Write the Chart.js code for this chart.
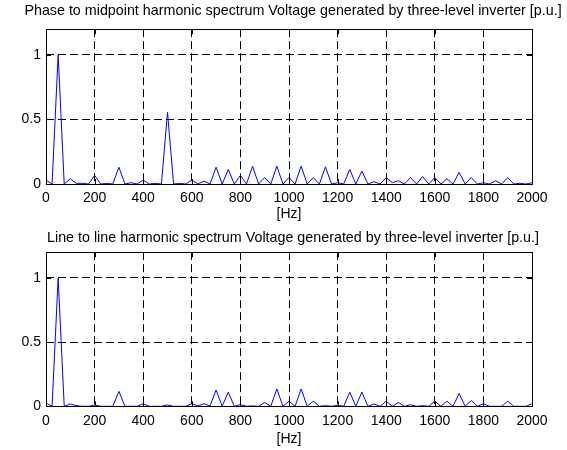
<!DOCTYPE html>
<html>
<head>
<meta charset="utf-8">
<script src="https://cdn.jsdelivr.net/npm/chart.js@4.4.0/dist/chart.umd.min.js"></script>
<style>
  html, body { margin: 0; padding: 0; background: #fff; }
  #wrap { position: relative; width: 567px; height: 450px; }
  .box { position: absolute; left: 0; width: 567px; height: 225px; }
  #topBox { top: 0; }
  #botBox { top: 225px; }
</style>
</head>
<body>
<div id="wrap">
  <div class="box" id="topBox"><canvas id="phaseChart"></canvas></div>
  <div class="box" id="botBox"><canvas id="lineChart"></canvas></div>
</div>
<script>
// harmonic frequencies [Hz]
const freqHz = [
  0, 25, 50, 75, 100, 125, 150, 175, 200, 225, 250, 275, 300, 325, 350, 375,
  400, 425, 450, 475, 500, 525, 550, 575, 600, 625, 650, 675, 700, 725, 750, 775,
  800, 825, 850, 875, 900, 925, 950, 975, 1000, 1025, 1050, 1075, 1100, 1125, 1150, 1175,
  1200, 1225, 1250, 1275, 1300, 1325, 1350, 1375, 1400, 1425, 1450, 1475, 1500, 1525, 1550, 1575,
  1600, 1625, 1650, 1675, 1700, 1725, 1750, 1775, 1800, 1825, 1850, 1875, 1900, 1925, 1950, 1975, 2000
];

// phase to midpoint spectrum [p.u.]
const phaseVals = [
  0.03, 0, 1.0, 0, 0.04, 0.005, 0.005, 0, 0.067, 0, 0.005, 0, 0.13, 0, 0.01, 0,
  0.03, 0, 0.005, 0, 0.555, 0, 0.005, 0, 0.03, 0, 0.022, 0, 0.13, 0, 0.113, 0,
  0.067, 0, 0.138, 0, 0.05, 0, 0.138, 0, 0.05, 0, 0.138, 0, 0.05, 0, 0.133, 0,
  0.01, 0, 0.113, 0, 0.1, 0, 0.018, 0, 0.05, 0.01, 0.025, 0, 0.05, 0, 0.058, 0,
  0.05, 0, 0.04, 0, 0.09, 0, 0.05, 0, 0.01, 0, 0.025, 0, 0.05, 0, 0.005, 0, 0.01
];

// line to line spectrum [p.u.]
const lineVals = [
  0.025, 0, 1.0, 0, 0.018, 0.005, 0, 0, 0.01, 0, 0, 0, 0.116, 0, 0, 0,
  0.02, 0, 0, 0, 0.01, 0, 0, 0, 0.02, 0.003, 0.02, 0.003, 0.127, 0, 0.11, 0,
  0.013, 0, 0.003, 0, 0.03, 0, 0.135, 0, 0.04, 0, 0.135, 0, 0.04, 0, 0.005, 0,
  0.008, 0, 0.11, 0, 0.11, 0, 0.018, 0, 0.04, 0, 0.03, 0, 0.012, 0, 0.005, 0,
  0.04, 0, 0.04, 0, 0.1, 0, 0.045, 0, 0.02, 0, 0, 0, 0.04, 0, 0, 0, 0.02
];

const xTicks = [0, 200, 400, 600, 800, 1000, 1200, 1400, 1600, 1800, 2000];
const yTicks = [0, 0.5, 1];

const FONT = "'Liberation Sans', Arial, Helvetica, sans-serif";
Chart.defaults.font.family = FONT;
Chart.defaults.color = "#000";

// matlab-ish box plus inward tick marks
const boxPlugin = {
  id: "mbox",
  afterDraw(chart) {
    const { ctx, chartArea: a, scales } = chart;
    ctx.save();
    ctx.strokeStyle = "#000";
    ctx.lineWidth = 1;
    ctx.setLineDash([]);
    ctx.strokeRect(Math.round(a.left) + 0.5, Math.round(a.top) + 0.5,
      Math.round(a.right - a.left), Math.round(a.bottom - a.top));
    ctx.beginPath();
    for (const v of xTicks) {
      const px = Math.round(scales.x.getPixelForValue(v)) + 0.5;
      ctx.moveTo(px, a.bottom); ctx.lineTo(px, a.bottom - 5);
      ctx.moveTo(px, a.top); ctx.lineTo(px, a.top + 5);
    }
    for (const v of yTicks) {
      const py = Math.round(scales.y.getPixelForValue(v)) + 0.5;
      ctx.moveTo(a.left, py); ctx.lineTo(a.left + 5, py);
      ctx.moveTo(a.right, py); ctx.lineTo(a.right - 5, py);
    }
    ctx.stroke();
    ctx.restore();
  }
};

function makeChart(id, titleText, vals, titlePad, xAxisH, tickPad) {
  const pts = freqHz.map((f, i) => ({ x: f, y: vals[i] }));
  return new Chart(document.getElementById(id), {
    type: "line",
    data: {
      datasets: [{
        data: pts,
        borderColor: "#0000ff",
        borderWidth: 1,
        pointRadius: 0,
        tension: 0,
        fill: false
      }]
    },
    options: {
      animation: false,
      responsive: true,
      maintainAspectRatio: false,
      layout: { padding: { left: 19, right: 0, top: 0, bottom: 0 } },
      plugins: {
        legend: { display: false },
        tooltip: { enabled: false },
        title: {
          display: true,
          text: titleText,
          color: "#000",
          font: { size: 14.3, weight: "normal" },
          padding: titlePad
        }
      },
      scales: {
        x: {
          type: "linear",
          min: 0, max: 2000,
          afterBuildTicks: (s) => { s.ticks = xTicks.map(v => ({ value: v })); },
          afterFit: (s) => { s.height = xAxisH; },
          ticks: { callback: (v) => String(v), padding: tickPad, maxRotation: 0, font: { size: 14 }, color: "#000" },
          grid: { color: "#000", lineWidth: 1, drawTicks: false },
          border: { display: false, dash: [8, 4] },
          title: { display: true, text: "[Hz]", color: "#000", font: { size: 14 }, padding: { top: 0, bottom: 2 } }
        },
        y: {
          min: 0, max: 1.2,
          afterBuildTicks: (s) => { s.ticks = yTicks.map(v => ({ value: v })); },
          afterFit: (s) => { s.width = 27; },
          ticks: { callback: (v) => String(v), padding: 5, font: { size: 14 }, color: "#000" },
          grid: { color: "#000", lineWidth: 1, drawTicks: false },
          border: { display: false, dash: [8, 4] }
        },
        yR: {
          position: "right",
          min: 0, max: 1.2,
          afterFit: (s) => { s.width = 35; },
          ticks: { display: false },
          grid: { display: false },
          border: { display: false }
        }
      }
    },
    plugins: [boxPlugin]
  });
}

makeChart("phaseChart",
  "Phase to midpoint harmonic spectrum Voltage generated by three-level inverter [p.u.]",
  phaseVals, { top: 2, bottom: 10 }, 41, 6);
makeChart("lineChart",
  "Line to line harmonic spectrum Voltage generated by three-level inverter [p.u.]",
  lineVals, { top: 4, bottom: 6 }, 43.7, 6);
</script>
</body>
</html>
